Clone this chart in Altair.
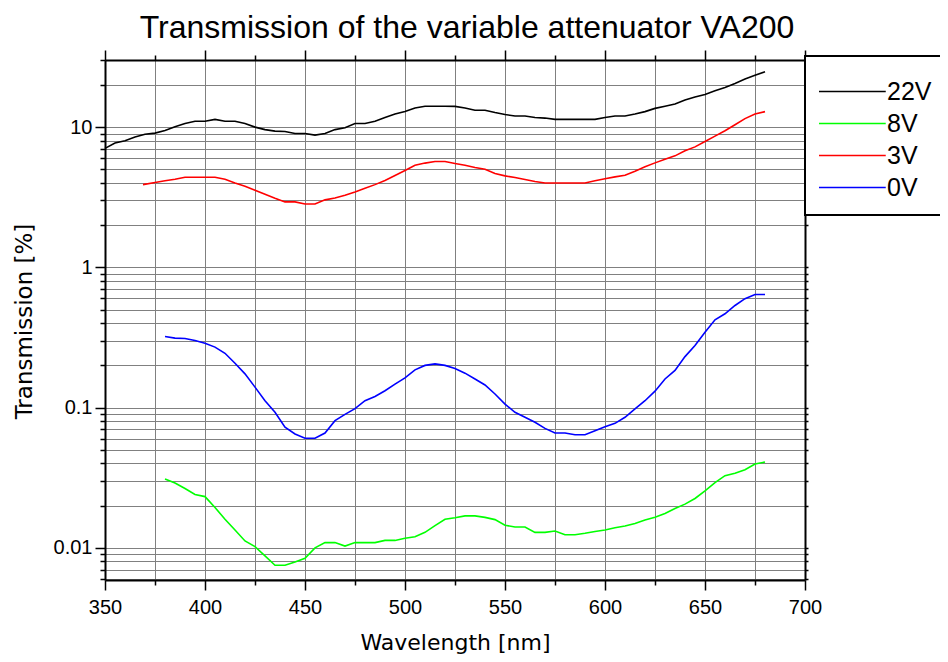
import altair as alt
import pandas as pd

# ---- data ----
wl_22v = list(range(350, 685, 5))
t_22v = [7.05, 7.7, 8.0, 8.5, 8.9, 9.06, 9.47, 10.05, 10.6, 11.0,
         11.0, 11.35, 11.0, 11.0, 10.6, 10.0, 9.6, 9.36, 9.3, 9.0,
         9.0, 8.77, 9.0, 9.6, 9.9, 10.6, 10.6, 11.0, 11.7, 12.4,
         12.9, 13.7, 14.1, 14.1, 14.1, 14.05, 13.7, 13.2, 13.2, 12.7,
         12.3, 12.0, 12.0, 11.7, 11.6, 11.35, 11.35, 11.35, 11.35, 11.35,
         11.7, 12.0, 12.0, 12.4, 12.9, 13.6, 14.1, 14.6, 15.6, 16.4,
         17.1, 18.2, 19.2, 20.5, 22.0, 23.4, 24.8]

wl_8v = list(range(380, 685, 5))
t_8v = [0.031, 0.029, 0.0265, 0.024, 0.0232, 0.0194, 0.016, 0.0134, 0.0112, 0.0102,
        0.00877, 0.00752, 0.00752, 0.00794, 0.00844, 0.01, 0.0109, 0.0109, 0.0103, 0.0109,
        0.0109, 0.0109, 0.0113, 0.0113, 0.0117, 0.012, 0.0129, 0.0144, 0.016, 0.0164,
        0.0169, 0.0169, 0.0165, 0.0159, 0.0145, 0.0141, 0.0141, 0.0129, 0.0129, 0.0132,
        0.0124, 0.0124, 0.0127, 0.0131, 0.0134, 0.0139, 0.0143, 0.0149, 0.0158, 0.0165,
        0.0176, 0.0191, 0.0205, 0.0225, 0.0255, 0.0292, 0.0327, 0.034, 0.0361, 0.0396,
        0.0409]

wl_3v = [369] + list(range(375, 685, 5))
t_3v = [3.89, 4.03, 4.14, 4.25, 4.39, 4.39, 4.39, 4.39, 4.25, 4.0, 3.79,
        3.55, 3.32, 3.11, 2.93, 2.93, 2.83, 2.83, 3.03, 3.12, 3.27,
        3.45, 3.66, 3.89, 4.16, 4.52, 4.91, 5.35, 5.54, 5.69, 5.69,
        5.5, 5.35, 5.15, 5.01, 4.67, 4.49, 4.37, 4.23, 4.09, 4.0,
        4.0, 4.0, 4.0, 4.0, 4.14, 4.29, 4.42, 4.54, 4.85, 5.21,
        5.56, 5.91, 6.24, 6.78, 7.23, 7.9, 8.62, 9.42, 10.4, 11.5,
        12.4, 12.9]

wl_0v = list(range(380, 685, 5))
t_0v = [0.321, 0.313, 0.311, 0.301, 0.288, 0.27, 0.244, 0.207, 0.174, 0.14,
        0.112, 0.0926, 0.0724, 0.0649, 0.0604, 0.0604, 0.0659, 0.0807, 0.0895, 0.0984,
        0.112, 0.12, 0.132, 0.147, 0.163, 0.186, 0.2, 0.205, 0.2, 0.19,
        0.176, 0.16, 0.145, 0.125, 0.106, 0.0926, 0.0853, 0.0786, 0.0711, 0.0659,
        0.0659, 0.0641, 0.0641, 0.0685, 0.0731, 0.0772, 0.0853, 0.0978, 0.112, 0.131,
        0.16, 0.184, 0.231, 0.277, 0.345, 0.423, 0.467, 0.535, 0.598, 0.641,
        0.641]

series_names = ["22V", "8V", "3V", "0V"]
series_colors = ["#000000", "#00ff00", "#ff0000", "#0000ff"]

x_ticks = [350, 375, 400, 425, 450, 475, 500, 525, 550, 575, 600, 625, 650, 675, 700]
x_label_values = [350, 400, 450, 500, 550, 600, 650, 700]
y_ticks = [0.006, 0.007, 0.008, 0.009,
           0.01, 0.02, 0.03, 0.04, 0.05, 0.06, 0.07, 0.08, 0.09,
           0.1, 0.2, 0.3, 0.4, 0.5, 0.6, 0.7, 0.8, 0.9,
           1, 2, 3, 4, 5, 6, 7, 8, 9,
           10, 20, 30]
y_label_values = [0.01, 0.1, 1, 10]

# ---- table ----
rows = []
for name, wls, ts in [("22V", wl_22v, t_22v), ("8V", wl_8v, t_8v),
                      ("3V", wl_3v, t_3v), ("0V", wl_0v, t_0v)]:
    for w, t in zip(wls, ts):
        rows.append({"wl": w, "T": t, "series": name})
df = pd.DataFrame(rows)

x_major = f"indexof({x_label_values}, datum.value) >= 0"
y_major = f"indexof({y_label_values}, datum.value) >= 0"

x_scale = alt.Scale(domain=[350, 700], nice=False, zero=False)
y_scale = alt.Scale(type="log", domain=[0.0059, 30.1], nice=False)

base = alt.Chart(df)

lines = base.mark_line(strokeWidth=1.6).encode(
    x=alt.X("wl:Q", scale=x_scale,
            axis=alt.Axis(orient="bottom", values=x_ticks, title="Wavelength [nm]",
                          labelExpr=f"{x_major} ? datum.label : ''",
                          tickSize={"condition": {"test": x_major, "value": 10}, "value": 5},
                          labelPadding=7, labelFlush=False, grid=True,
                          titleY=69, titleBaseline="alphabetic")),
    y=alt.Y("T:Q", scale=y_scale,
            axis=alt.Axis(orient="left", values=y_ticks, title="Transmission [%]",
                          format="~g",
                          labelExpr=f"{y_major} ? datum.label : ''",
                          tickSize={"condition": {"test": y_major, "value": 10}, "value": 5},
                          labelPadding=3, grid=True, titleFontSize=23,
                          titleX=-74, titleY=261, titleBaseline="alphabetic")),
    color=alt.Color("series:N",
                    scale=alt.Scale(domain=series_names, range=series_colors),
                    legend=alt.Legend(orient="none", legendX=700, legendY=-4,
                                      direction="vertical", title="\u00a0" * 200,
                                      titleFontSize=5, titlePadding=4, titleLimit=1000,
                                      symbolType="stroke", symbolSize=4830,
                                      symbolStrokeWidth=1.6, symbolOffset=-4,
                                      clipHeight=25,
                                      labelFont="Liberation Sans", labelFontSize=25,
                                      labelColor="black", labelOffset=0,
                                      padding=14, rowPadding=6,
                                      fillColor="white", strokeColor="black")),
)

mirror = base.mark_line(opacity=0).encode(
    x=alt.X("wl:Q", scale=x_scale,
            axis=alt.Axis(orient="top", values=x_ticks, title="", labels=False,
                          tickSize={"condition": {"test": x_major, "value": 10}, "value": 5},
                          grid=False)),
    y=alt.Y("T:Q", scale=y_scale,
            axis=alt.Axis(orient="right", values=y_ticks, title="", labels=False,
                          tickSize=3, grid=False)),
    detail="series:N",
)

chart = alt.layer(lines, mirror).resolve_axis(
    x="independent", y="independent"
).properties(
    width=700, height=520,
    padding={"left": 97, "top": 52, "right": 135, "bottom": 74},
    autosize=alt.AutoSizeParams(type="none"),
    title=alt.TitleParams("Transmission of the variable attenuator VA200",
                          font="Liberation Sans", fontSize=32, fontWeight="normal",
                          color="black", anchor="middle", frame="group",
                          dx=12, offset=4),
).configure_view(
    stroke=None
).configure_axis(
    domainColor="black", domainWidth=2,
    tickColor="black", tickWidth=1.5,
    gridColor="#808080", gridWidth=1, gridOpacity=1,
    labelFont="Liberation Sans", labelFontSize=20, labelColor="black",
    titleFont="DejaVu Sans", titleFontSize=22, titleColor="black",
    titleFontWeight="normal",
).configure_legend(
    strokeWidth=2
)

chart.save("out.html", embed_options={"renderer": "svg", "actions": False})
